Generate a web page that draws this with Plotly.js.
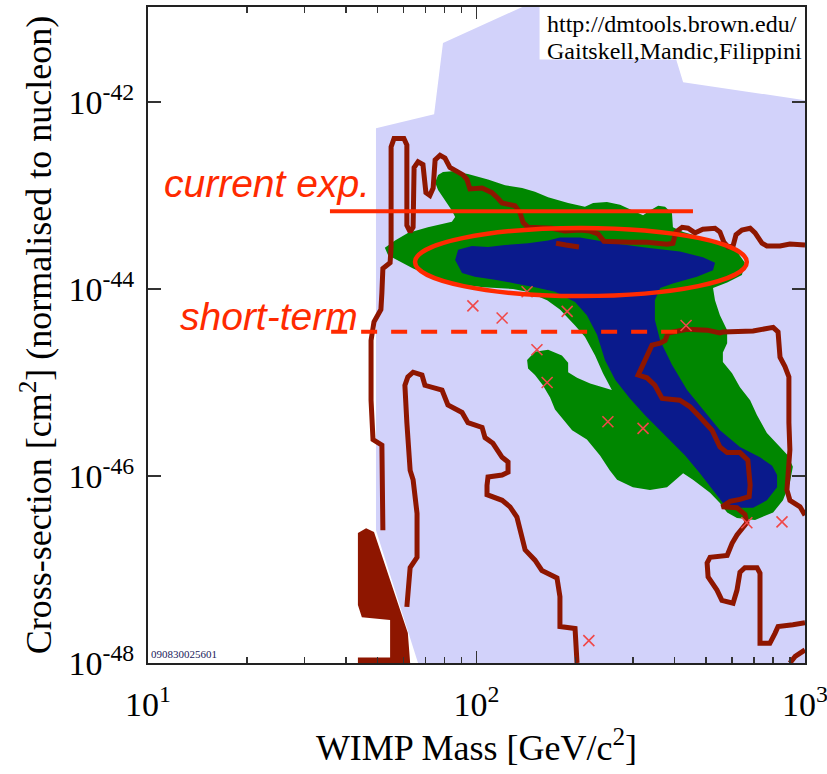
<!DOCTYPE html>
<html><head><meta charset="utf-8">
<script src="https://cdn.plot.ly/plotly-3.0.1.min.js"></script>
<style>html,body{margin:0;padding:0;background:#fff}#chart{width:827px;height:774px}</style>
</head><body><div id="chart"></div>
<script>
// All region outlines are stored as log10(WIMP mass / GeV) and log10(cross-section / cm^2)
const lavenderLogM = [1.822, 3.000, 3.000, 2.629, 2.559, 2.142, 1.898, 1.871, 1.694, 1.694];
const lavenderLogS = [-48.00, -48.00, -41.98, -41.79, -40.98, -40.98, -41.37, -42.13, -42.28, -46.58];

const excludedLogM = [1.639, 1.664, 1.688, 1.791, 1.798, 1.639, 1.639, 1.737, 1.737, 1.651, 1.639];
const excludedLogS = [-46.61, -46.56, -46.60, -47.68, -48.00, -48.00, -47.94, -47.94, -47.54, -47.51, -47.38];

const green95LogM = [1.721,1.752,1.791,1.852,1.925,1.935,1.925,1.904,1.883,1.874,
  1.883,1.898,1.925,1.974,2.035,2.087,2.139,2.178,2.218,2.279,
  2.330,2.355,2.397,2.437,2.476,2.507,2.528,2.553,2.574,2.595,
  2.598,2.629,2.680,2.741,2.793,2.817,2.808,2.763,2.720,2.726,
  2.741,2.763,2.763,2.750,2.750,2.778,2.802,2.833,2.854,2.884,
  2.924,2.948,2.963,2.954,2.933,2.903,2.848,2.793,2.763,2.741,
  2.711,2.659,2.629,2.580,2.528,2.476,2.428,2.406,2.376,2.336,
  2.291,2.260,2.239,2.224,2.202,2.178,2.157,2.154,2.178,2.218,
  2.260,2.279,2.279,2.306,2.346,2.412,2.385,2.361,2.330,2.300,
  2.254,2.215,2.154,2.111,2.020,1.928,1.868,1.807,1.761,1.731];
const green95LogS = [-43.56,-43.48,-43.40,-43.34,-43.28,-43.23,-43.16,-43.05,-42.94,-42.86,
  -42.78,-42.75,-42.74,-42.77,-42.83,-42.89,-42.92,-42.96,-43.02,-43.08,
  -43.12,-43.08,-43.07,-43.10,-43.16,-43.21,-43.16,-43.11,-43.12,-43.19,
  -43.34,-43.39,-43.44,-43.51,-43.60,-43.72,-43.85,-43.93,-43.99,-44.12,
  -44.28,-44.44,-44.58,-44.68,-44.78,-44.90,-45.05,-45.19,-45.35,-45.54,
  -45.69,-45.78,-45.90,-46.07,-46.26,-46.39,-46.47,-46.45,-46.39,-46.29,
  -46.18,-46.04,-45.97,-46.12,-46.15,-46.12,-46.04,-45.94,-45.78,-45.61,
  -45.51,-45.38,-45.29,-45.16,-45.03,-44.92,-44.85,-44.76,-44.67,-44.65,
  -44.71,-44.79,-44.89,-44.95,-45.01,-45.08,-44.90,-44.71,-44.51,-44.39,
  -44.22,-44.12,-44.03,-44.00,-43.98,-43.94,-43.87,-43.78,-43.69,-43.64];

const blue68LogM = [1.935,1.944,1.986,2.035,2.087,2.157,2.218,2.254,2.315,2.416,
  2.519,2.619,2.689,2.726,2.720,2.671,2.598,2.559,2.543,2.543,
  2.559,2.595,2.641,2.689,2.741,2.802,2.863,2.900,2.915,2.915,
  2.884,2.842,2.793,2.750,2.720,2.680,2.635,2.574,2.513,2.467,
  2.422,2.391,2.367,2.336,2.300,2.239,2.178,2.117,2.056,1.995,1.956];
const blue68LogS = [-43.69,-43.58,-43.54,-43.55,-43.53,-43.51,-43.48,-43.45,-43.45,-43.51,
  -43.56,-43.60,-43.66,-43.72,-43.80,-43.87,-43.94,-43.99,-44.12,-44.33,
  -44.55,-44.81,-45.08,-45.29,-45.51,-45.69,-45.80,-45.89,-45.99,-46.12,
  -46.26,-46.34,-46.34,-46.29,-46.15,-45.97,-45.78,-45.56,-45.35,-45.17,
  -44.97,-44.76,-44.49,-44.28,-44.14,-44.03,-43.98,-43.94,-43.90,-43.87,-43.83];

const contourALogM = [1.715,1.712,1.685,1.679,1.679,1.688,1.709,1.712,1.715,1.737,
  1.740,1.740,1.749,1.779,1.788,1.788,1.798,1.807,1.810,1.822,
  1.837,1.846,1.858,1.868,1.874,1.889,1.904,1.919,1.959,1.971,
  1.980,2.017,2.047,2.065,2.078,2.117,2.132,2.142,2.157,2.230,
  2.269,2.315,2.346,2.370,2.388,2.467,2.519,2.580,2.598,2.607,
  2.626,2.644,2.665,2.689,2.726,2.741,2.753,2.766,2.781,2.790,
  2.808,2.833,2.848,2.869,2.884,2.924,2.954,3.000];
const contourALogS = [-46.58,-45.67,-45.61,-45.19,-44.55,-44.35,-44.22,-44.04,-43.78,-43.72,
  -43.55,-42.48,-42.39,-42.39,-42.46,-43.32,-43.39,-43.34,-42.70,-42.64,
  -42.67,-42.97,-43.00,-42.92,-42.62,-42.57,-42.60,-42.70,-42.78,-42.83,
  -42.93,-42.92,-42.97,-43.03,-43.08,-43.11,-43.18,-43.29,-43.34,-43.35,
  -43.38,-43.37,-43.38,-43.41,-43.49,-43.50,-43.50,-43.52,-43.51,-43.39,
  -43.34,-43.35,-43.40,-43.36,-43.35,-43.39,-43.50,-43.55,-43.54,-43.42,
  -43.37,-43.35,-43.40,-43.51,-43.54,-43.54,-43.52,-43.53];

const contourBLogM = [2.242, 2.272, 2.312];
const contourBLogS = [-43.51, -43.53, -43.55];

const contourCLogM = [1.788,1.798,1.819,1.819,1.807,1.798,1.788,1.782,1.791,1.807,
  1.834,1.843,1.895,1.913,1.956,1.974,2.017,2.026,2.050,2.078,
  2.096,2.096,2.078,2.035,2.032,2.032,2.078,2.102,2.123,2.148,
  2.178,2.199,2.245,2.254,2.254,2.300,2.306];
const contourCLogS = [-47.40,-46.98,-46.87,-46.40,-46.04,-45.94,-45.43,-45.03,-44.94,-44.89,
  -44.92,-45.03,-45.08,-45.24,-45.32,-45.43,-45.48,-45.59,-45.65,-45.80,
  -45.85,-45.96,-45.99,-46.01,-46.10,-46.20,-46.26,-46.33,-46.44,-46.79,
  -46.90,-47.01,-47.09,-47.29,-47.61,-47.63,-48.00];

const contourDLogM = [3.000,2.985,2.954,2.945,2.948,2.954,2.951,2.951,2.939,2.924,
  2.918,2.903,2.842,2.750,2.741,2.702,2.641,2.583,2.574,2.559,
  2.534,2.504,2.492,2.519,2.543,2.565,2.619,2.650,2.680,2.717,
  2.741,2.763,2.802,2.826,2.833,2.830,2.802,2.772,2.747,
  2.793,2.817,2.823,2.793,2.778,2.763,2.711,2.702,2.705,2.732,
  2.747,2.781,2.793,2.802,2.817,2.854,2.863,2.863,2.893,2.909,
  2.918,2.963,3.000];
const contourDLogS = [-46.42,-46.33,-46.26,-46.15,-46.01,-45.72,-45.43,-44.94,-44.83,-44.73,
  -44.46,-44.41,-44.45,-44.46,-44.47,-44.44,-44.43,-44.47,-44.55,-44.58,
  -44.60,-44.83,-44.92,-44.95,-45.03,-45.17,-45.19,-45.26,-45.37,-45.51,
  -45.69,-45.75,-45.75,-45.83,-46.10,-46.22,-46.25,-46.27,-46.33,
  -46.34,-46.41,-46.50,-46.63,-46.72,-46.85,-46.87,-46.93,-47.08,-47.22,
  -47.33,-47.36,-47.22,-47.03,-46.98,-46.98,-47.04,-47.79,-47.79,-47.68,
  -47.61,-47.59,-47.57];

const contourELogM = [2.954, 2.970, 3.000];
const contourELogS = [-48.00, -47.93, -47.86];

const pointLogM = [1.989, 2.078, 2.154, 2.276, 2.638, 2.184, 2.215, 2.400, 2.507, 2.823, 2.930, 2.342];
const pointLogS = [-44.18, -44.31, -44.03, -44.24, -44.39, -44.65, -45.00, -45.42, -45.49, -46.50, -46.49, -47.76];

// Experiment sensitivity lines (GeV, cm^2)
const expLabels = ['current exp.', 'short-term'];
const expMassStart = [35.8, 36.1];
const expMassEnd = [456, 431];
const expSigma = [6.8e-44, 3.5e-45];

// Highlighted ellipse bounds (GeV, cm^2)
const ellipseMass = [65, 665];
const ellipseSigma = [8.4e-45, 4.5e-44];

const xTickVals = [10, 100, 1000];
const xTickText = ['10<sup>1</sup>', '10<sup>2</sup>', '10<sup>3</sup>'];
const xMinorVals = [20,30,40,50,60,70,80,90,200,300,400,500,600,700,800,900];
const yTickVals = [1e-48, 1e-46, 1e-44, 1e-42];
const yTickText = ['10<sup>-48</sup>', '10<sup>-46</sup>', '10<sup>-44</sup>', '10<sup>-42</sup>'];

const p10 = a => a.map(v => Math.pow(10, v));
const CONT = '#8e1600';
const RED = '#ff2a00';

function fillTrace(lm, ls, color) {
  return {x: p10(lm), y: p10(ls), type: 'scatter', mode: 'lines', fill: 'toself',
    fillcolor: color, line: {width: 0, color: color}, hoverinfo: 'skip', showlegend: false};
}
function lineTrace(lm, ls) {
  return {x: p10(lm), y: p10(ls), type: 'scatter', mode: 'lines',
    line: {width: 5, color: CONT, simplify: false}, hoverinfo: 'skip', showlegend: false};
}

const data = [
  fillTrace(lavenderLogM, lavenderLogS, '#d2d2fa'),
  fillTrace(excludedLogM, excludedLogS, CONT),
  fillTrace(green95LogM, green95LogS, '#008700'),
  fillTrace(blue68LogM, blue68LogS, '#0a1a8c'),
  lineTrace(contourALogM, contourALogS),
  lineTrace(contourBLogM, contourBLogS),
  lineTrace(contourCLogM, contourCLogS),
  lineTrace(contourDLogM, contourDLogS),
  lineTrace(contourELogM, contourELogS),
  {x: p10(pointLogM), y: p10(pointLogS), type: 'scatter', mode: 'markers',
    marker: {symbol: 'x-thin-open', size: 11, color: '#f04848', line: {width: 1.6, color: '#f04848'}},
    hoverinfo: 'skip', showlegend: false},
  {x: [expMassStart[0], expMassEnd[0]], y: [expSigma[0], expSigma[0]], type: 'scatter', mode: 'lines',
    line: {width: 4, color: RED}, hoverinfo: 'skip', showlegend: false},
  {x: [expMassStart[1], expMassEnd[1]], y: [expSigma[1], expSigma[1]], type: 'scatter', mode: 'lines',
    line: {width: 4, color: RED, dash: '16px,14px'}, hoverinfo: 'skip', showlegend: false},
  // invisible anchors so the mirrored top and right axes (with inside ticks) are drawn
  {x: [xTickVals[1]], y: [expSigma[1]], xaxis: 'x2', yaxis: 'y', type: 'scatter', mode: 'markers',
    marker: {opacity: 0, size: 1}, hoverinfo: 'skip', showlegend: false},
  {x: [xTickVals[1]], y: [expSigma[1]], xaxis: 'x', yaxis: 'y2', type: 'scatter', mode: 'markers',
    marker: {opacity: 0, size: 1}, hoverinfo: 'skip', showlegend: false}
];

const serif = 'Liberation Serif, Times New Roman, serif';
const minorTicks = {tickmode: 'array', tickvals: xMinorVals, ticks: 'inside', ticklen: 6, tickwidth: 1.5, tickcolor: '#333', showgrid: false};
const layout = {
  width: 827, height: 774,
  margin: {l: 148, r: 22, t: 7, b: 111},
  paper_bgcolor: '#ffffff', plot_bgcolor: '#ffffff',
  showlegend: false,
  font: {family: serif, color: '#000'},
  xaxis: {
    type: 'log', range: [1, 3], tickmode: 'array', tickvals: xTickVals, ticktext: xTickText,
    tickfont: {size: 34, family: serif, color: '#000'},
    ticks: 'inside', ticklen: 12, tickwidth: 1.5, tickcolor: '#333',
    minor: minorTicks,
    showline: true, linecolor: '#222', linewidth: 2, mirror: true,
    showgrid: false, zeroline: false, ticklabelstandoff: 10, ticklabeloverflow: 'allow',
    title: {text: 'WIMP Mass [GeV/c<sup>2</sup>]', font: {size: 36, family: serif, color: '#000'}, standoff: 8}
  },
  xaxis2: {
    type: 'log', range: [1, 3], overlaying: 'x', side: 'top', tickmode: 'array', tickvals: xTickVals,
    showticklabels: false, ticks: 'inside', ticklen: 12, tickwidth: 1.5, tickcolor: '#333',
    minor: minorTicks, showline: false, showgrid: false, zeroline: false
  },
  yaxis: {
    type: 'log', range: [-48, -40.984], tickmode: 'array', tickvals: yTickVals, ticktext: yTickText,
    tickfont: {size: 34, family: serif, color: '#000'},
    ticks: 'inside', ticklen: 13, tickwidth: 1.5, tickcolor: '#333',
    showline: true, linecolor: '#222', linewidth: 2, mirror: true,
    showgrid: false, zeroline: false, ticklabelstandoff: 5,
    title: {text: 'Cross-section [cm<sup>2</sup>] (normalised to nucleon)', font: {size: 36, family: serif, color: '#000'}, standoff: 6}
  },
  yaxis2: {
    type: 'log', range: [-48, -40.984], overlaying: 'y', side: 'right', tickmode: 'array', tickvals: yTickVals,
    showticklabels: false, ticks: 'inside', ticklen: 13, tickwidth: 1.5, tickcolor: '#333',
    showline: false, showgrid: false, zeroline: false
  },
  shapes: [
    {type: 'rect', xref: 'paper', yref: 'paper', x0: 0.596, x1: 1, y0: 0.92, y1: 1,
      fillcolor: '#ffffff', line: {width: 0}, layer: 'above'},
    {type: 'circle', xref: 'x', yref: 'y', x0: ellipseMass[0], x1: ellipseMass[1],
      y0: ellipseSigma[0], y1: ellipseSigma[1], line: {color: RED, width: 4.5}, layer: 'above'}
  ],
  annotations: [
    {text: expLabels[0], xref: 'x', yref: 'y', x: 1.682, y: -42.87, xanchor: 'right', yanchor: 'middle',
      showarrow: false, font: {family: 'Liberation Sans, Arial, sans-serif', size: 39, color: RED, style: 'italic'}},
    {text: expLabels[1], xref: 'x', yref: 'y', x: 1.645, y: -44.29, xanchor: 'right', yanchor: 'middle',
      showarrow: false, font: {family: 'Liberation Sans, Arial, sans-serif', size: 39, color: RED, style: 'italic'}},
    {text: 'http://dmtools.brown.edu/', xref: 'paper', yref: 'paper', x: 0.604, y: 0.997, xanchor: 'left', yanchor: 'top',
      showarrow: false, font: {family: serif, size: 24, color: '#000'}},
    {text: 'Gaitskell,Mandic,Filippini', xref: 'paper', yref: 'paper', x: 0.604, y: 0.956, xanchor: 'left', yanchor: 'top',
      showarrow: false, font: {family: serif, size: 24, color: '#000'}},
    {text: '090830025601', xref: 'paper', yref: 'paper', x: 0.002, y: 0.002, xanchor: 'left', yanchor: 'bottom',
      showarrow: false, font: {family: serif, size: 11, color: '#1a1a5a'}}
  ]
};

Plotly.newPlot('chart', data, layout, {staticPlot: true, displayModeBar: false});
</script></body></html>
